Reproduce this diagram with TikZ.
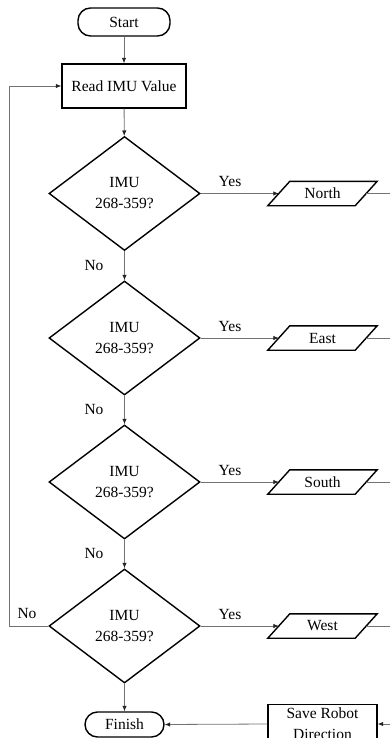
\documentclass[tikz,border=0pt]{standalone}
\usepackage{fontspec}
\setmainfont{Liberation Serif}
\usetikzlibrary{shapes.geometric,arrows.meta}

\tikzset{
  base/.style={font=\fontsize{15.5}{21}\selectfont, align=center, inner sep=0pt},
  term/.style={base, draw, line width=1.4pt, rounded corners=12.5pt},
  procbox/.style={base, draw, line width=1.4pt},
  decision/.style={base, draw, diamond, line width=1.4pt, minimum width=151pt, minimum height=114pt},
  iobox/.style={base, minimum width=87pt, minimum height=24pt},
  ioshape/.style={draw, line width=1.4pt, line join=miter},
  flow/.style={draw=black!55, line width=0.8pt},
  arrow/.style={flow, -{Latex[length=5.5pt,width=4.5pt,color=black!85]}},
  lbl/.style={font=\fontsize{15.5}{18}\selectfont, inner sep=0pt},
}

\begin{document}
\begin{tikzpicture}[x=1pt, y=-1pt]
  \useasboundingbox (0,0) rectangle (390,738);
  \clip (0,0) rectangle (390,738);

  % main column
  \node[term, minimum width=92pt, minimum height=28pt] (start) at (124,22) {Start};
  \node[procbox, minimum width=124pt, minimum height=44pt] (read) at (124,86) {Read IMU Value};
  \node[decision] (d1) at (124.5,193.5) {IMU\\268-359?};
  \node[decision] (d2) at (124.5,338) {IMU\\268-359?};
  \node[decision] (d3) at (124.5,482) {IMU\\268-359?};
  \node[decision] (d4) at (124.5,626) {IMU\\268-359?};
  \node[term, minimum width=79pt, minimum height=25pt] (finish) at (124.5,724.5) {Finish};

  % direction outputs
  \foreach \n/\t/\y in {north/North/193.5, east/East/338, south/South/482, west/West/626} {
    \node[iobox] (\n) at (322.5,\y) {\t};
    \draw[ioshape] ([xshift=-11pt]\n.south west) -- ([xshift=-11pt]\n.south east)
      -- ([xshift=11pt]\n.north east) -- ([xshift=11pt]\n.north west) -- cycle;
  }
  \node[procbox, minimum width=109pt, minimum height=39pt] (save) at (322.5,724) {Save Robot\\Direction};

  % collector on the right
  \coordinate (rtop) at (402,193.5);
  \coordinate (rbot) at (402,724);

  % connectors down the column
  \draw[arrow] (start) -- (read);
  \draw[arrow] (read) -- (d1);
  \draw[arrow] (d1) -- (d2);
  \draw[arrow] (d2) -- (d3);
  \draw[arrow] (d3) -- (d4);
  \draw[arrow] (d4) -- (finish);

  % yes branches
  \draw[arrow] (d1.east) -- (north.west);
  \draw[arrow] (d2.east) -- (east.west);
  \draw[arrow] (d3.east) -- (south.west);
  \draw[arrow] (d4.east) -- (west.west);
  \draw[flow] (north.east) -- (rtop) -- (rbot);
  \draw[flow] (east.east) -- (east.east -| rtop);
  \draw[flow] (south.east) -- (south.east -| rtop);
  \draw[flow] (west.east) -- (west.east -| rtop);
  \draw[arrow] (rbot) -- (save.east);
  \draw[arrow] (save.west) -- (finish.east);

  % loop back
  \coordinate (lbot) at (9,626);
  \coordinate (ltop) at (9,86);
  \draw[arrow] (d4.west) -- (lbot) -- (ltop) -- (read.west);

  % labels
  \foreach \d/\y in {d1/193.5, d2/338, d3/482, d4/626} {
    \node[lbl] (yes-\d) at (230,\y-11.5) {Yes};
  }
  \node[lbl] (no1) at (94,265) {No};
  \node[lbl] (no2) at (94,409.5) {No};
  \node[lbl] (no3) at (94,553.5) {No};
  \node[lbl] (no4) at (27,613) {No};
\end{tikzpicture}
\end{document}
